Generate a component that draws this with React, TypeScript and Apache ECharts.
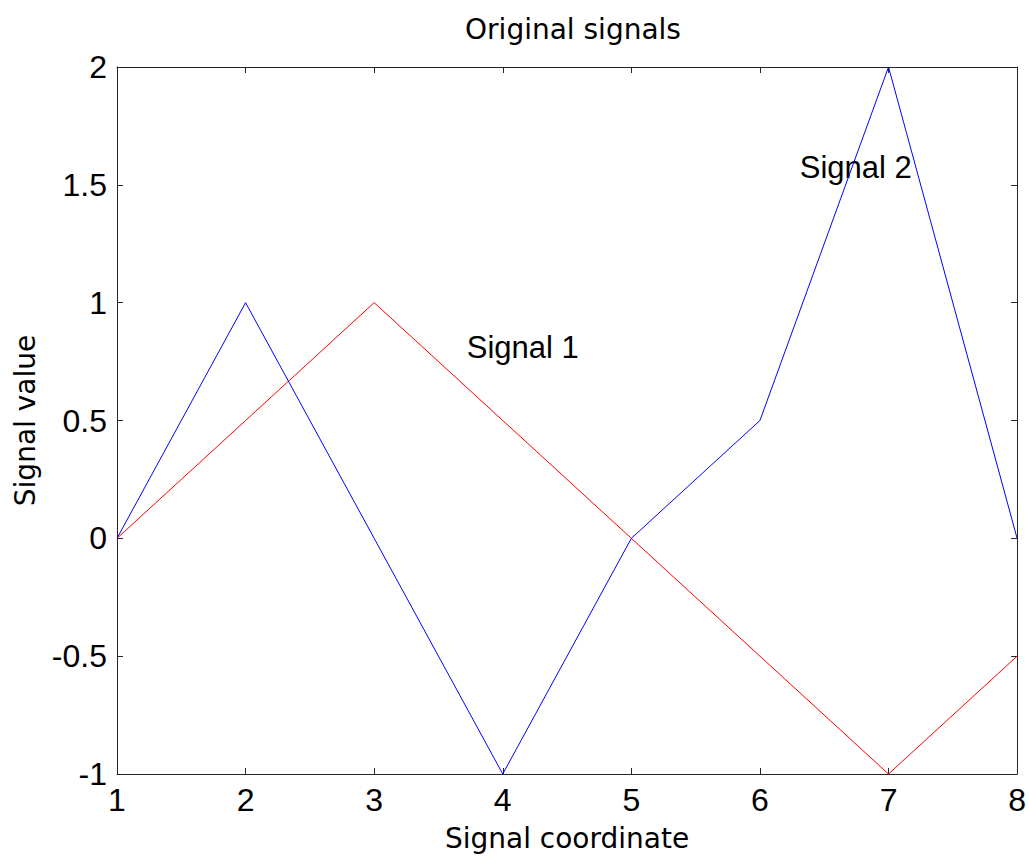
import React, { useEffect, useRef } from "react";
import * as echarts from "echarts";

const xCoords = [1, 2, 3, 4, 5, 6, 7, 8];
const signal1 = [0, 0.5, 1, 0.5, 0, -0.5, -1, -0.5];
const signal2 = [0, 1, 0, -1, 0, 0.5, 2, 0];
const annotationNames = ["Signal 1", "Signal 2"];
const annotationX = [3.72, 6.31];
const annotationY = [0.81, 1.574];

const titleText = "Original signals";
const xName = "Signal coordinate";
const yName = "Signal value";

const axisColor = "#262626";
const tickFont = "Liberation Sans";
const nameFont = "DejaVu Sans";

export default function App() {
  const ref = useRef<HTMLDivElement>(null);
  useEffect(() => {
    if (!ref.current) return;
    const chart = echarts.init(ref.current, undefined, { renderer: "svg" });
    const lineAxisCommon = {
      axisLine: { show: true, onZero: false, lineStyle: { color: axisColor, width: 1 } },
      axisTick: { show: true, inside: true, length: 6, lineStyle: { color: axisColor, width: 1 } },
      splitLine: { show: false },
    };
    chart.setOption({
      animation: false,
      backgroundColor: "#ffffff",
      title: {
        text: titleText,
        left: 568,
        top: 10,
        textAlign: "center",
        textStyle: { fontFamily: nameFont, fontSize: 28, fontWeight: "normal", color: "#000" },
      },
      grid: { left: 117, top: 67, right: 11, bottom: 89, containLabel: false },
      xAxis: [
        {
          type: "value",
          min: 1,
          max: 8,
          interval: 1,
          position: "bottom",
          name: xName,
          nameLocation: "middle",
          nameGap: 50,
          nameTextStyle: { fontFamily: nameFont, fontSize: 28, color: "#000" },
          axisLabel: { fontFamily: tickFont, fontSize: 32, color: "#000", margin: 10 },
          ...lineAxisCommon,
        },
        {
          type: "value",
          min: 1,
          max: 8,
          interval: 1,
          position: "top",
          axisLabel: { show: false },
          ...lineAxisCommon,
        },
      ],
      yAxis: [
        {
          type: "value",
          min: -1,
          max: 2,
          interval: 0.5,
          position: "left",
          name: yName,
          nameLocation: "middle",
          nameGap: 78,
          nameRotate: 90,
          nameTextStyle: { fontFamily: nameFont, fontSize: 28, color: "#000" },
          axisLabel: { fontFamily: tickFont, fontSize: 32, color: "#000", margin: 10 },
          ...lineAxisCommon,
        },
        {
          type: "value",
          min: -1,
          max: 2,
          interval: 0.5,
          position: "right",
          axisLabel: { show: false },
          ...lineAxisCommon,
        },
      ],
      series: [
        {
          type: "line",
          name: "Signal 1",
          data: xCoords.map((x, i) => [x, signal1[i]]),
          showSymbol: false,
          symbol: "none",
          lineStyle: { color: "#ff0000", width: 1 },
          itemStyle: { color: "#ff0000" },
          silent: true,
        },
        {
          type: "line",
          name: "Signal 2",
          data: xCoords.map((x, i) => [x, signal2[i]]),
          showSymbol: false,
          symbol: "none",
          lineStyle: { color: "#0000ff", width: 1 },
          itemStyle: { color: "#0000ff" },
          silent: true,
        },
        {
          type: "scatter",
          symbolSize: 0,
          silent: true,
          itemStyle: { color: "#000", opacity: 1 },
          data: annotationNames.map((n, i) => ({ name: n, value: [annotationX[i], annotationY[i]] })),
          label: {
            show: true,
            formatter: "{b}",
            position: "right",
            distance: 0,
            align: "left",
            verticalAlign: "middle",
            fontFamily: tickFont,
            fontSize: 31,
            color: "#000000",
            opacity: 1,
          },
        },
      ],
    });
    return () => chart.dispose();
  }, []);
  return (
    <div
      ref={ref}
      style={{ position: "absolute", left: 0, top: 0, width: 1029, height: 863 }}
    />
  );
}
